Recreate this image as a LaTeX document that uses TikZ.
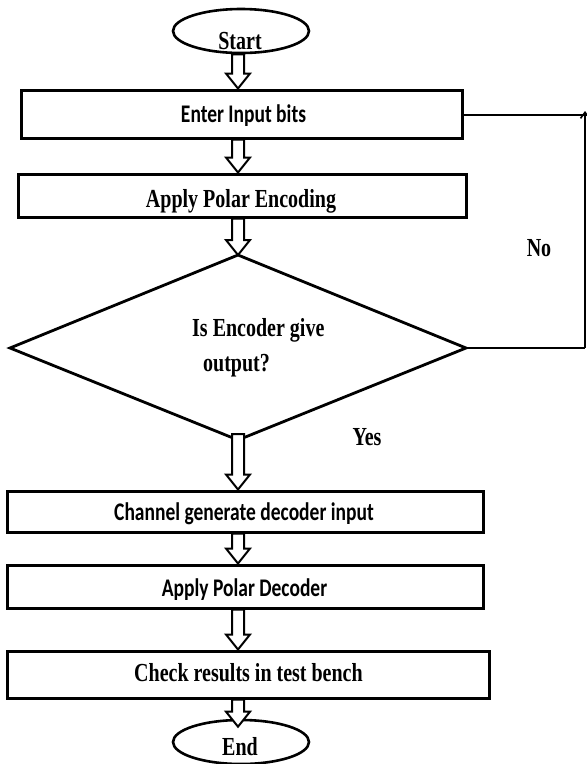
\documentclass[tikz,border=0pt]{standalone}
\usepackage{fontspec}
\usepackage{graphicx}
\setmainfont{Liberation Serif}
\newfontfamily\calib{Carlito}
\usetikzlibrary{calc,arrows.meta,shapes.geometric}
\newcommand{\vstretch}[1]{\scalebox{1}[1.3]{#1}}
\newcommand{\barrow}[2]{\draw[blockarr] let \p1=(#1), \p2=(#2) in (\x2-6pt,\y1) -- (\x2-6pt,\y2+15pt) -- (\x2-12pt,\y2+15pt) -- (\x2,\y2) -- (\x2+12pt,\y2+15pt) -- (\x2+6pt,\y2+15pt) -- (\x2+6pt,\y1) -- cycle;}
\tikzset{
  procbox/.style={draw, line width=3pt, inner sep=0pt},
  termshape/.style={draw, ellipse, line width=2.6pt, minimum width=136pt, minimum height=44pt, inner sep=0pt},
  serifbold/.style={inner sep=0pt, font=\fontsize{20}{20}\selectfont\bfseries},
  sansbold/.style={inner sep=0pt, font=\fontsize{19.5}{20}\selectfont\calib\bfseries},
  blockarr/.style={draw, fill=white, line width=2pt, line join=miter},
  flowline/.style={draw, line width=2.6pt}
}
\begin{document}
\begin{tikzpicture}[x=1pt, y=-1pt]
\useasboundingbox (0,0) rectangle (587,764);
\clip (0,0) rectangle (587,764);
\coordinate (axis) at (238,0);
% terminals
\node[termshape] (start) at (241,31) {};
\node[termshape] (end) at (241,742) {};
% boxes
\node[procbox, minimum width=441pt, minimum height=48pt] (enter) at (241.5,114) {};
\node[procbox, minimum width=448pt, minimum height=43pt] (encode) at (242,195.5) {};
\node[procbox, minimum width=476pt, minimum height=41pt] (channel) at (245,511.5) {};
\node[procbox, minimum width=476pt, minimum height=43pt] (decode) at (245,586.5) {};
\node[procbox, minimum width=482pt, minimum height=47pt] (check) at (248,674.5) {};
% diamond
\coordinate (dtop) at (238,255);
\coordinate (dleft) at (10,348);
\coordinate (dright) at (466,348);
\coordinate (dbot) at (238,440);
\draw[line width=2.8pt, line join=miter] (dtop) -- (dright) -- (dbot) -- (dleft) -- cycle;
% block arrows
\barrow{start.south -| axis}{enter.north -| axis}
\barrow{enter.south -| axis}{encode.north -| axis}
\barrow{encode.south -| axis}{dtop}
\barrow{[yshift=6pt]dbot}{channel.north -| axis}
\barrow{channel.south -| axis}{decode.north -| axis}
\barrow{decode.south -| axis}{check.north -| axis}
\barrow{check.south -| axis}{[yshift=-8pt]end.north -| axis}
% No loop
\coordinate (nbot) at (585,348);
\coordinate (ntop) at (585,115);
\coordinate (nedge) at (589,115);
\draw[flowline] (dright) -- (nbot);
\draw[flowline, -{Straight Barb[length=6pt,width=9pt,line width=1.6pt]}] (nbot) -- ([yshift=4pt]ntop);
\draw[flowline] (enter.east |- ntop) -- (nedge);
% texts
\node[serifbold] (tstart) at (240,41) {\vstretch{Start}};
\node[serifbold] (tend) at (240,747) {\vstretch{End}};
\node[sansbold] (tenter) at (243.5,116) {\vstretch{Enter Input bits}};
\node[serifbold] (tencode) at (241,201) {\vstretch{Apply Polar Encoding}};
\node[serifbold, anchor=west] (tq1) at (192,330) {\vstretch{Is Encoder give}};
\node[serifbold, anchor=west] (tq2) at (203,366) {\vstretch{output?}};
\node[sansbold] (tchannel) at (244,514) {\vstretch{Channel generate decoder input}};
\node[sansbold] (tdecode) at (244.5,590) {\vstretch{Apply Polar Decoder}};
\node[serifbold] (tcheck) at (248.5,673) {\vstretch{Check results in test bench}};
\node[serifbold] (tyes) at (367,437) {\vstretch{Yes}};
\node[serifbold] (tno) at (539,248) {\vstretch{No}};
\end{tikzpicture}
\end{document}
